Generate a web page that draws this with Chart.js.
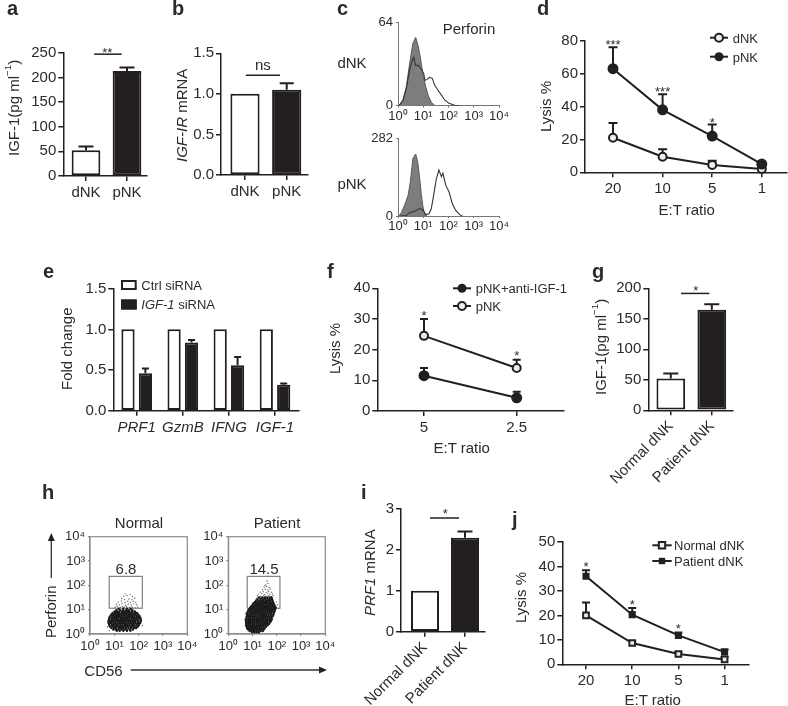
<!DOCTYPE html>
<html>
<head>
<meta charset="utf-8">
<title>Figure</title>
<script src="https://cdn.jsdelivr.net/npm/chart.js@4/dist/chart.umd.min.js"></script>
<style>
html, body { margin: 0; padding: 0; background: #fff; width: 788px; height: 706px; overflow: hidden; }
#fig { position: relative; width: 788px; height: 706px; overflow: hidden; filter: blur(0.35px); }
#fig canvas { position: absolute; }
#fig span { position: absolute; white-space: nowrap; line-height: 1; color: #2b2b2b; font-family: "Liberation Sans", sans-serif; }
#fig svg { position: absolute; left: 0; top: 0; }
sup { font-size: .65em; line-height: 0; }
</style>
</head>
<body>
<div id="fig">
  <svg width="788" height="706">
    <g stroke="#333" stroke-width="1.3" fill="#222">
      <line x1="51.3" y1="578" x2="51.3" y2="539"/>
      <line x1="130.7" y1="670" x2="322" y2="670"/>
      <polygon points="51.3,533 47.8,541 54.8,541" stroke="none"/>
      <polygon points="327,670 319,666.5 319,673.5" stroke="none"/>
    </g>
  </svg>
</div>
<script>
// panel a
const aLabels = ['dNK', 'pNK'];
const aValues = [52, 213];
const aTops = [60, 220];
const aTicks = [0, 50, 100, 150, 200, 250];

// panel b
const bLabels = ['dNK', 'pNK'];
const bValues = [1.0, 1.05];
const bTops = [null, 1.13];
const bTicks = [0, 0.5, 1, 1.5];

// panel c, x in decades
const cDnkOpenX = [0.04, 0.2, 0.33, 0.46, 0.57, 0.62, 0.7, 0.79, 0.92, 1.02, 1.07, 1.15, 1.25, 1.36, 1.45, 1.58, 1.72, 1.85, 2.02, 2.24, 2.44];
const cDnkOpenY = [0, 4.4, 13.4, 27.5, 35.2, 37.2, 31.1, 31.1, 28.5, 24.7, 19.5, 20.3, 21.8, 21.1, 15.9, 12.1, 8.2, 4.4, 1.8, 0.3, 0];
const cDnkFillX = [0.04, 0.2, 0.33, 0.46, 0.59, 0.7, 0.79, 0.88, 0.99, 1.1, 1.19, 1.32, 1.45];
const cDnkFillY = [0, 4.4, 14.6, 32.6, 48, 52.7, 46.8, 37.8, 23.6, 14.6, 8.2, 2.6, 0.3];
const cPnkOpenX = [0.07, 0.33, 0.46, 0.66, 0.86, 0.99, 1.1, 1.23, 1.32, 1.41, 1.52, 1.62, 1.72, 1.78, 1.89, 2.02, 2.15, 2.28, 2.44, 2.55];
const cPnkOpenY = [0, 2, 12, 17, 27, 21, 5, 8, 27, 75, 136, 167, 143, 155, 112, 88, 45, 21, 5, 0];
const cPnkFillX = [0.04, 0.13, 0.26, 0.4, 0.49, 0.59, 0.7, 0.78, 0.86, 0.92, 0.99, 1.06, 1.15];
const cPnkFillY = [0, 12, 39, 75, 124, 209, 225, 197, 136, 81, 33, 5, 0];
const decadeLabels = ['10⁰', '10¹', '10²', '10³', '10⁴'];

// panel d
const dLabels = ['20', '10', '5', '1'];
const dPnk = [63, 38, 22, 5];
const dPnkTops = [76, 47.5, 29, 6];
const dDnk = [21, 9.5, 4.5, 2];
const dDnkTops = [30, 14, 7, 3];
const dTicks = [0, 20, 40, 60, 80];

// panel e
const eLabels = ['PRF1', 'GzmB', 'IFNG', 'IGF-1'];
const eCtrl = [1, 1, 1, 1];
const eSi = [0.46, 0.84, 0.56, 0.32];
const eSiTops = [0.52, 0.87, 0.66, 0.335];
const eTicks = [0, 0.5, 1, 1.5];

// panel f
const fLabels = ['5', '2.5'];
const fAnti = [11.5, 4.3];
const fAntiTops = [14, 6.3];
const fPnk = [24.5, 14];
const fPnkTops = [30, 16.7];
const fTicks = [0, 10, 20, 30, 40];

// panel g
const gLabels = ['Normal dNK', 'Patient dNK'];
const gValues = [52, 165];
const gTops = [60.5, 174];
const gTicks = [0, 50, 100, 150, 200];

// panel h, both axes in decades: [y, [x, x, ...]]
const hNormalRows = [
  [0.13, [1.1, 1.22, 1.37, 1.52, 1.66]],
  [0.19, [0.96, 1.06, 1.17, 1.29, 1.41, 1.5, 1.63, 1.76]],
  [0.25, [0.88, 0.99, 1.08, 1.19, 1.27, 1.36, 1.47, 1.58, 1.69, 1.81, 1.9]],
  [0.31, [0.82, 0.93, 1.02, 1.11, 1.21, 1.3, 1.39, 1.49, 1.57, 1.67, 1.76, 1.87, 1.97]],
  [0.37, [0.79, 0.9, 0.98, 1.08, 1.16, 1.25, 1.34, 1.44, 1.53, 1.62, 1.72, 1.81, 1.92, 2.01]],
  [0.44, [0.78, 0.87, 0.97, 1.05, 1.14, 1.23, 1.33, 1.41, 1.5, 1.59, 1.69, 1.79, 1.88, 1.98, 2.05]],
  [0.5, [0.76, 0.86, 0.95, 1.04, 1.13, 1.22, 1.31, 1.4, 1.49, 1.58, 1.67, 1.76, 1.85, 1.96, 2.07]],
  [0.56, [0.77, 0.88, 0.96, 1.06, 1.15, 1.24, 1.32, 1.42, 1.51, 1.6, 1.68, 1.78, 1.87, 1.97, 2.09]],
  [0.62, [0.79, 0.89, 0.98, 1.07, 1.16, 1.26, 1.35, 1.43, 1.52, 1.61, 1.71, 1.8, 1.9, 1.99, 2.08]],
  [0.68, [0.8, 0.91, 1.0, 1.09, 1.18, 1.27, 1.36, 1.45, 1.54, 1.63, 1.72, 1.82, 1.91, 2.0, 2.06]],
  [0.74, [0.84, 0.93, 1.03, 1.11, 1.2, 1.29, 1.38, 1.47, 1.56, 1.65, 1.74, 1.83, 1.93, 2.03]],
  [0.8, [0.88, 0.97, 1.06, 1.15, 1.24, 1.32, 1.41, 1.5, 1.6, 1.68, 1.77, 1.87, 1.98]],
  [0.86, [0.93, 1.03, 1.12, 1.2, 1.3, 1.39, 1.48, 1.57, 1.66, 1.75, 1.85, 1.93]],
  [0.92, [1.01, 1.1, 1.21, 1.33, 1.42, 1.53, 1.62, 1.73, 1.84]],
  [0.98, [1.09, 1.24, 1.36, 1.49, 1.6, 1.74]],
  [1.04, [1.18, 1.37, 1.52, 1.68]]
];
const hNormalSparseX = [1.03, 1.12, 1.25, 1.34, 1.41, 1.5, 1.62, 1.74, 1.85, 1.96, 1.08, 1.2, 1.31, 1.47, 1.58, 1.7, 1.81, 1.92, 1.16, 1.29, 1.44, 1.55, 1.66, 1.78, 1.88, 1.3, 1.42, 1.6, 1.73, 1.84, 1.38, 1.52, 1.75, 0.8, 0.72, 0.74, 2.1, 2.16, 1.45, 1.65];
const hNormalSparseY = [1.1, 1.14, 1.09, 1.13, 1.1, 1.12, 1.09, 1.11, 1.08, 1.1, 1.22, 1.2, 1.25, 1.18, 1.23, 1.19, 1.24, 1.2, 1.32, 1.36, 1.3, 1.35, 1.29, 1.34, 1.31, 1.46, 1.42, 1.44, 1.41, 1.47, 1.55, 1.58, 1.53, 0.14, 0.3, 0.45, 0.52, 0.35, 1.65, 1.62];

const hPatientRows = [
  [0.06, [0.98, 1.08, 1.17, 1.26]],
  [0.12, [0.88, 0.97, 1.06, 1.15, 1.24, 1.33, 1.42]],
  [0.18, [0.82, 0.91, 1.0, 1.08, 1.17, 1.26, 1.35, 1.46]],
  [0.24, [0.78, 0.87, 0.95, 1.03, 1.12, 1.21, 1.29, 1.38, 1.49]],
  [0.3, [0.76, 0.84, 0.93, 1.01, 1.09, 1.18, 1.27, 1.36, 1.45, 1.55]],
  [0.36, [0.75, 0.83, 0.92, 1.0, 1.08, 1.17, 1.26, 1.35, 1.44, 1.53, 1.62]],
  [0.42, [0.74, 0.82, 0.9, 0.99, 1.07, 1.16, 1.25, 1.33, 1.42, 1.51, 1.6, 1.68]],
  [0.48, [0.74, 0.83, 0.91, 1.0, 1.09, 1.18, 1.26, 1.35, 1.44, 1.53, 1.61, 1.72]],
  [0.54, [0.73, 0.82, 0.9, 0.98, 1.07, 1.16, 1.24, 1.33, 1.42, 1.51, 1.6, 1.69, 1.76]],
  [0.6, [0.75, 0.84, 0.92, 1.01, 1.09, 1.18, 1.27, 1.36, 1.45, 1.54, 1.62, 1.71, 1.79]],
  [0.66, [0.75, 0.83, 0.91, 1.0, 1.08, 1.17, 1.25, 1.34, 1.43, 1.52, 1.61, 1.7, 1.78]],
  [0.72, [0.76, 0.85, 0.93, 1.02, 1.11, 1.2, 1.29, 1.38, 1.47, 1.56, 1.64, 1.73, 1.82]],
  [0.78, [0.77, 0.86, 0.95, 1.03, 1.12, 1.21, 1.3, 1.39, 1.47, 1.56, 1.66, 1.75, 1.85]],
  [0.84, [0.78, 0.88, 0.97, 1.05, 1.14, 1.23, 1.32, 1.4, 1.49, 1.58, 1.67, 1.76, 1.87]],
  [0.9, [0.8, 0.9, 0.99, 1.08, 1.16, 1.25, 1.34, 1.43, 1.52, 1.61, 1.7, 1.79, 1.89]],
  [0.96, [0.82, 0.92, 1.01, 1.1, 1.19, 1.28, 1.36, 1.45, 1.54, 1.63, 1.72, 1.81, 1.91]],
  [1.02, [0.85, 0.95, 1.04, 1.13, 1.21, 1.3, 1.39, 1.48, 1.57, 1.66, 1.75, 1.84, 1.93]],
  [1.08, [0.9, 0.99, 1.07, 1.16, 1.25, 1.33, 1.42, 1.51, 1.6, 1.69, 1.78, 1.87, 1.95]],
  [1.14, [0.95, 1.03, 1.12, 1.2, 1.29, 1.38, 1.47, 1.56, 1.65, 1.74, 1.83, 1.92]],
  [1.2, [1.0, 1.09, 1.17, 1.26, 1.35, 1.44, 1.53, 1.62, 1.71, 1.8, 1.89]],
  [1.26, [1.04, 1.14, 1.22, 1.32, 1.41, 1.5, 1.59, 1.68, 1.77, 1.86]],
  [1.32, [1.1, 1.2, 1.29, 1.38, 1.47, 1.56, 1.65, 1.74, 1.84]],
  [1.38, [1.15, 1.26, 1.36, 1.44, 1.54, 1.63, 1.72, 1.82]],
  [1.44, [1.2, 1.33, 1.42, 1.52, 1.62, 1.71, 1.8]],
  [1.5, [1.27, 1.4, 1.5, 1.6, 1.7, 1.78]]
];
const hPatientSparseX = [1.2, 1.33, 1.46, 1.55, 1.67, 1.77, 1.85, 1.25, 1.38, 1.5, 1.62, 1.72, 1.82, 1.32, 1.44, 1.56, 1.66, 1.78, 1.41, 1.53, 1.63, 1.73, 1.48, 1.58, 1.68, 1.55, 1.63, 1.51, 0.7, 0.68, 0.72, 2.02, 2.08, 1.98, 1.6];
const hPatientSparseY = [1.56, 1.54, 1.58, 1.55, 1.57, 1.54, 1.58, 1.64, 1.66, 1.62, 1.65, 1.63, 1.66, 1.72, 1.74, 1.71, 1.75, 1.72, 1.82, 1.84, 1.81, 1.85, 1.92, 1.95, 1.91, 2.02, 2.08, 2.0, 0.35, 0.6, 0.85, 1.2, 1.05, 1.32, 2.18];
const hNormalGate = [0.79, 2.15, 1.06, 2.37];
const hPatientGate = [0.78, 2.13, 1.06, 2.37];

// panel i
const iLabels = ['Normal dNK', 'Patient dNK'];
const iValues = [1, 2.3];
const iTops = [null, 2.45];
const iTicks = [0, 1, 2, 3];

// panel j
const jLabels = ['20', '10', '5', '1'];
const jPatient = [36, 20.3, 11.8, 5];
const jPatientTops = [38.5, 23, 13, 6];
const jNormal = [20, 8.7, 4.2, 2];
const jNormalTops = [25.3, 9.5, 5, 3];
const jTicks = [0, 10, 20, 30, 40, 50];

const DARK = '#231f20';
const FONT = '"Liberation Sans", sans-serif';
const fig = document.getElementById('fig');

function pairs(xs, ys) { return xs.map((x, i) => ({ x: x, y: ys[i] })); }
function indexed(ys) { return ys.map((y, i) => ({ x: i, y: y })); }
function expandRows(rows) {
  const out = [];
  rows.forEach(r => r[1].forEach(x => out.push({ x: x, y: r[0] })));
  return out;
}

function addText(html, x, y, opts) {
  opts = opts || {};
  const s = document.createElement('span');
  s.innerHTML = html;
  s.style.fontSize = (opts.size || 15) + 'px';
  if (opts.bold) s.style.fontWeight = 'bold';
  fig.appendChild(s);
  if (opts.vertical) {
    // snap the box to even sizes so the half turn lands on whole pixels
    s.style.writingMode = 'vertical-rl';
    s.style.textAlign = 'center';
    const r = s.getBoundingClientRect();
    const w = Math.ceil(r.width / 2) * 2, h = Math.ceil(r.height / 2) * 2;
    s.style.width = w + 'px';
    s.style.height = h + 'px';
    s.style.left = Math.round(x - w / 2) + 'px';
    s.style.top = Math.round(y - h / 2) + 'px';
    s.style.transform = 'rotate(180deg)';
    return;
  }
  s.style.left = x + 'px';
  s.style.top = y + 'px';
  s.style.transform = opts.left ? 'translate(0,-50%)' : 'translate(-50%,-50%)';
}

// error bars, significance bars, stars and legend marks for one panel
function panelPlugin(cfg, box) {
  return {
    id: 'panel',
    beforeDatasetsDraw(chart) {
      const ctx = chart.ctx, xs = chart.scales.x, ys = chart.scales.y;
      ctx.save();
      if (cfg.gate) {
        const g = cfg.gate;
        const x0 = xs.getPixelForValue(g[0]), x1 = xs.getPixelForValue(g[1]);
        const y0 = ys.getPixelForValue(g[2]), y1 = ys.getPixelForValue(g[3]);
        ctx.strokeStyle = '#777';
        ctx.lineWidth = 1.1;
        ctx.strokeRect(x0, y1, x1 - x0, y0 - y1);
      }
      ctx.strokeStyle = DARK;
      ctx.lineWidth = cfg.errWidth || 2;
      (cfg.errors || []).forEach(e => {
        const pts = chart.getDatasetMeta(e.ds).data;
        e.tops.forEach((top, i) => {
          if (top === null) return;
          const px = pts[i].x, py = ys.getPixelForValue(top);
          ctx.beginPath();
          ctx.moveTo(px, pts[i].y);
          ctx.lineTo(px, py);
          ctx.moveTo(px - cfg.cap / 2, py);
          ctx.lineTo(px + cfg.cap / 2, py);
          ctx.stroke();
        });
      });
      ctx.restore();
    },
    afterDraw(chart) {
      const ctx = chart.ctx, xs = chart.scales.x, ys = chart.scales.y;
      ctx.save();
      if (cfg.frame) {
        const a = chart.chartArea;
        ctx.strokeStyle = '#8a8a8a';
        ctx.lineWidth = 1.2;
        ctx.strokeRect(a.left, a.top, a.right - a.left, a.bottom - a.top);
      }
      if (cfg.sig) {
        ctx.strokeStyle = DARK;
        ctx.lineWidth = 1.5;
        ctx.beginPath();
        ctx.moveTo(xs.getPixelForValue(cfg.sig[0]), ys.getPixelForValue(cfg.sig[2]));
        ctx.lineTo(xs.getPixelForValue(cfg.sig[1]), ys.getPixelForValue(cfg.sig[2]));
        ctx.stroke();
      }
      ctx.fillStyle = '#2b2b2b';
      ctx.textAlign = 'center';
      ctx.textBaseline = 'middle';
      (cfg.stars || []).forEach(s => {
        const isStar = s[2].indexOf('*') >= 0;
        const size = isStar ? 13 : 15;
        ctx.font = size + 'px ' + FONT;
        ctx.fillText(s[2], xs.getPixelForValue(s[0]), ys.getPixelForValue(s[1]) + (isStar ? 3 : 0));
      });
      (cfg.legend || []).forEach(m => {
        const x0 = m.x0 - box.left, x1 = m.x1 - box.left, y = m.y - box.top, cx = (x0 + x1) / 2;
        if (m.kind === 'box') {
          ctx.fillStyle = m.fill;
          ctx.strokeStyle = DARK;
          ctx.lineWidth = 2;
          ctx.fillRect(x0, y - 5, x1 - x0, 10);
          ctx.strokeRect(x0 + 1, y - 4, x1 - x0 - 2, 8);
          return;
        }
        ctx.strokeStyle = DARK;
        ctx.lineWidth = 2;
        ctx.beginPath();
        ctx.moveTo(x0, y);
        ctx.lineTo(x1, y);
        ctx.stroke();
        ctx.fillStyle = m.fill;
        ctx.beginPath();
        if (m.kind === 'circle') ctx.arc(cx, y, m.r, 0, Math.PI * 2);
        else ctx.rect(cx - m.r, y - m.r, m.r * 2, m.r * 2);
        ctx.fill();
        if (m.fill !== DARK) ctx.stroke();
      });
      ctx.restore();
    }
  };
}

function panel(p) {
  const left = Math.round(p.l) - 60, top = Math.round(p.t) - 30;
  const right = Math.ceil(p.r) + 35, bottom = Math.ceil(p.b) + 80;
  const canvas = document.createElement('canvas');
  canvas.width = right - left;
  canvas.height = bottom - top;
  canvas.style.left = left + 'px';
  canvas.style.top = top + 'px';
  fig.appendChild(canvas);

  const axisColor = p.axisColor || DARK;
  const axisWidth = p.axisWidth || 1.5;
  const fontSize = p.fontSize || 15;
  const xLabels = p.xLabels;
  const xValues = p.xValues || xLabels.map((_, i) => i);
  const yLabels = p.yLabels || p.yTicks.map(String);

  new Chart(canvas, {
    type: p.type,
    data: { datasets: p.datasets },
    plugins: [panelPlugin(p.extra || {}, { left: left, top: top })],
    options: {
      responsive: false,
      animation: false,
      events: [],
      layout: { autoPadding: false, padding: { top: p.t - top, right: right - p.r, left: 0, bottom: 0 } },
      plugins: { legend: { display: false }, tooltip: { enabled: false } },
      datasets: { bar: { categoryPercentage: p.catPct || 1, barPercentage: p.barPct || 0.7 } },
      scales: {
        x: {
          type: 'linear',
          offset: false,
          min: p.xMin !== undefined ? p.xMin : (p.l - p.c0) / p.step,
          max: p.xMax !== undefined ? p.xMax : (p.r - p.c0) / p.step,
          afterFit(s) { s.height = bottom - p.b; },
          afterBuildTicks(s) { s.ticks = xValues.map(v => ({ value: v })); },
          grid: { offset: false, drawOnChartArea: false, tickLength: p.tickLen || 5, color: axisColor, lineWidth: axisWidth },
          border: { color: axisColor, width: axisWidth },
          ticks: {
            autoSkip: false,
            maxRotation: p.rotate || 0,
            minRotation: p.rotate || 0,
            padding: p.xPad !== undefined ? p.xPad : 3,
            color: '#2b2b2b',
            font: { family: FONT, size: fontSize, style: p.xItalic ? 'italic' : 'normal' },
            callback: (v, i) => xLabels[i]
          }
        },
        y: {
          type: 'linear',
          min: p.yTicks[0],
          max: p.yTicks[p.yTicks.length - 1],
          afterFit(s) { s.width = p.l - left; },
          afterBuildTicks(s) { s.ticks = p.yTicks.map(v => ({ value: v })); },
          grid: { drawOnChartArea: false, tickLength: p.tickLen || 5, color: axisColor, lineWidth: axisWidth },
          border: { color: axisColor, width: axisWidth },
          ticks: {
            autoSkip: false,
            padding: p.yPad !== undefined ? p.yPad : 2,
            color: '#2b2b2b',
            font: { family: FONT, size: fontSize },
            callback: (v, i) => yLabels[i]
          }
        }
      }
    }
  });
}

function twoBars(values) {
  return [{
    data: indexed(values),
    backgroundColor: ['#fff', DARK],
    borderColor: DARK,
    borderWidth: 2,
    borderSkipped: false
  }];
}
function lineSet(values, point, fill, radius) {
  return {
    data: indexed(values),
    borderColor: DARK,
    borderWidth: 2,
    pointStyle: point,
    pointRadius: radius,
    pointBackgroundColor: fill,
    pointBorderColor: DARK,
    pointBorderWidth: 2,
    clip: false,
    tension: 0
  };
}
function histSets(openX, openY, fillX, fillY) {
  return [
    { data: pairs(openX, openY), borderColor: '#333', borderWidth: 1.1, pointRadius: 0, fill: false, tension: 0 },
    { data: pairs(fillX, fillY), borderColor: '#5a5a5a', backgroundColor: '#7d7d7d', borderWidth: 1, pointRadius: 0, fill: 'origin', tension: 0 }
  ];
}
function dotSets(rows, sparseX, sparseY) {
  return [
    { data: expandRows(rows), pointRadius: 1.25, pointBorderWidth: 0, pointBackgroundColor: '#1a1a1a' },
    { data: pairs(sparseX, sparseY), pointRadius: 0.7, pointBorderWidth: 0, pointBackgroundColor: '#666' }
  ];
}

// a
panel({
  type: 'bar', l: 63.3, r: 147, t: 52.7, b: 176, c0: 86, step: 41, barPct: 0.7,
  xLabels: aLabels, yTicks: aTicks, datasets: twoBars(aValues),
  extra: { errors: [{ ds: 0, tops: aTops }], cap: 15, sig: [0.2, 0.87, 247], stars: [[0.52, 255, '**']] }
});
// b
panel({
  type: 'bar', l: 221, r: 308, t: 53.3, b: 175, c0: 245, step: 41.7, barPct: 0.7,
  xLabels: bLabels, yTicks: bTicks, yLabels: ['0.0', '0.5', '1.0', '1.5'], datasets: twoBars(bValues),
  extra: { errors: [{ ds: 0, tops: bTops }], cap: 14, sig: [0.02, 0.84, 1.23], stars: [[0.43, 1.35, 'ns']] }
});
// c
panel({
  type: 'line', l: 398, r: 499, t: 22.7, b: 105.7, xMin: 0, xMax: 4, xValues: [0, 1, 2, 3, 4],
  xLabels: decadeLabels, yTicks: [0, 64], fontSize: 13, axisColor: '#777', axisWidth: 1, tickLen: 2, xPad: 1, yPad: 3,
  datasets: histSets(cDnkOpenX, cDnkOpenY, cDnkFillX, cDnkFillY)
});
panel({
  type: 'line', l: 398, r: 499, t: 138.3, b: 216, xMin: 0, xMax: 4, xValues: [0, 1, 2, 3, 4],
  xLabels: decadeLabels, yTicks: [0, 282], fontSize: 13, axisColor: '#777', axisWidth: 1, tickLen: 2, xPad: 1, yPad: 3,
  datasets: histSets(cPnkOpenX, cPnkOpenY, cPnkFillX, cPnkFillY)
});
// d
panel({
  type: 'line', l: 585, r: 787, t: 40.7, b: 172.3, c0: 613, step: 49.6,
  xLabels: dLabels, yTicks: dTicks,
  datasets: [lineSet(dPnk, 'circle', DARK, 4.5), lineSet(dDnk, 'circle', '#eee', 4)],
  extra: {
    errors: [{ ds: 0, tops: dPnkTops }, { ds: 1, tops: dDnkTops }], cap: 9,
    stars: [[0, 78.7, '***'], [1, 50.6, '***'], [2, 31.7, '*']],
    legend: [
      { kind: 'circle', x0: 710, x1: 728, y: 37.7, r: 4, fill: '#eee' },
      { kind: 'circle', x0: 710, x1: 728, y: 56.7, r: 4.5, fill: DARK }
    ]
  }
});
// e
panel({
  type: 'bar', l: 113.3, r: 299, t: 288.7, b: 410.7, c0: 136.7, step: 46.1, catPct: 0.755, barPct: 0.76,
  xLabels: eLabels, xItalic: true, yTicks: eTicks, yLabels: ['0.0', '0.5', '1.0', '1.5'],
  datasets: [
    { data: indexed(eCtrl), backgroundColor: '#fff', borderColor: DARK, borderWidth: 2, borderSkipped: false },
    { data: indexed(eSi), backgroundColor: DARK, borderColor: DARK, borderWidth: 2, borderSkipped: false }
  ],
  extra: {
    errors: [{ ds: 1, tops: eSiTops }], cap: 7,
    legend: [
      { kind: 'box', x0: 121, x1: 136.7, y: 285, fill: '#fff' },
      { kind: 'box', x0: 121, x1: 136.7, y: 304.5, fill: DARK }
    ]
  }
});
// f
panel({
  type: 'line', l: 377.3, r: 563.3, t: 288.3, b: 411, c0: 424, step: 92.7,
  xLabels: fLabels, yTicks: fTicks,
  datasets: [lineSet(fAnti, 'circle', DARK, 4.5), lineSet(fPnk, 'circle', '#eee', 4)],
  extra: {
    errors: [{ ds: 0, tops: fAntiTops }, { ds: 1, tops: fPnkTops }], cap: 8,
    stars: [[0, 31.9, '*'], [1, 18.9, '*']],
    legend: [
      { kind: 'circle', x0: 453, x1: 471, y: 288.3, r: 4.5, fill: DARK },
      { kind: 'circle', x0: 453, x1: 471, y: 306, r: 4, fill: '#eee' }
    ]
  }
});
// g
panel({
  type: 'bar', l: 648.3, r: 732.7, t: 288.3, b: 410.3, c0: 670.8, step: 41, barPct: 0.7, rotate: 45, xPad: 2,
  xLabels: gLabels, yTicks: gTicks, datasets: twoBars(gValues),
  extra: { errors: [{ ds: 0, tops: gTops }], cap: 15, sig: [0.25, 0.94, 191.6], stars: [[0.61, 199, '*']] }
});
// h
panel({
  type: 'scatter', l: 90, r: 187.3, t: 536.7, b: 634, xMin: 0, xMax: 4, xValues: [0, 1, 2, 3, 4],
  xLabels: decadeLabels, yTicks: [0, 1, 2, 3, 4], yLabels: decadeLabels, fontSize: 13,
  axisColor: '#8a8a8a', axisWidth: 1.2, tickLen: 2, xPad: 3, yPad: 3,
  datasets: dotSets(hNormalRows, hNormalSparseX, hNormalSparseY),
  extra: { frame: true, gate: hNormalGate }
});
panel({
  type: 'scatter', l: 228.3, r: 325.3, t: 536.7, b: 634, xMin: 0, xMax: 4, xValues: [0, 1, 2, 3, 4],
  xLabels: decadeLabels, yTicks: [0, 1, 2, 3, 4], yLabels: decadeLabels, fontSize: 13,
  axisColor: '#8a8a8a', axisWidth: 1.2, tickLen: 2, xPad: 3, yPad: 3,
  datasets: dotSets(hPatientRows, hPatientSparseX, hPatientSparseY),
  extra: { frame: true, gate: hPatientGate }
});
// i
panel({
  type: 'bar', l: 401, r: 485, t: 509, b: 631.7, c0: 425, step: 40, barPct: 0.7, rotate: 45, xPad: 2,
  xLabels: iLabels, yTicks: iTicks, datasets: twoBars(iValues),
  extra: { errors: [{ ds: 0, tops: iTops }], cap: 15, sig: [0.125, 0.85, 2.78], stars: [[0.51, 2.93, '*']] }
});
// j
panel({
  type: 'line', l: 562.3, r: 749, t: 542, b: 664.3, c0: 586, step: 46.2,
  xLabels: jLabels, yTicks: jTicks,
  datasets: [lineSet(jPatient, 'rect', DARK, 3.6), lineSet(jNormal, 'rect', '#eee', 4)],
  extra: {
    errors: [{ ds: 0, tops: jPatientTops }, { ds: 1, tops: jNormalTops }], cap: 8,
    stars: [[0, 40.9, '*'], [1, 25.2, '*'], [2, 15.4, '*']],
    legend: [
      { kind: 'square', x0: 652.3, x1: 671.7, y: 545.3, r: 3.2, fill: '#eee' },
      { kind: 'square', x0: 652.3, x1: 671.7, y: 561, r: 3.2, fill: DARK }
    ]
  }
});

// panel letters
[['a', 7, 7.7], ['b', 172, 7.7], ['c', 337, 7.7], ['d', 537, 7.7], ['e', 43, 271], ['f', 327, 271], ['g', 592, 271],
 ['h', 42, 492], ['i', 361, 492], ['j', 512, 519]].forEach(t => addText(t[0], t[1], t[2], { size: 20, bold: true, left: true }));

// axis titles and other labels
const igfTitle = 'IGF-1(pg ml<sup>−1</sup>)';
addText(igfTitle, 14, 107.5, { vertical: true });
addText('<i>IGF-IR</i> mRNA', 182, 115, { vertical: true });
addText('dNK', 352, 62);
addText('pNK', 352, 183);
addText('Perforin', 469, 28);
addText('Lysis %', 546, 105.8, { vertical: true });
addText('E:T ratio', 686.7, 209.3);
addText('dNK', 732.7, 37.7, { size: 13, left: true });
addText('pNK', 732.7, 56.7, { size: 13, left: true });

addText('Fold change', 67, 349, { vertical: true });
addText('Ctrl siRNA', 141.3, 285, { size: 13, left: true });
addText('<i>IGF-1</i> siRNA', 141.3, 304, { size: 13, left: true });
addText('Lysis %', 335, 347.5, { vertical: true });
addText('E:T ratio', 461.7, 446.7);
addText('pNK+anti-IGF-1', 475.7, 288.3, { size: 13, left: true });
addText('pNK', 475.7, 306, { size: 13, left: true });
addText(igfTitle, 601, 346.7, { vertical: true });

addText('Normal', 139, 522);
addText('Patient', 277, 522);
addText('6.8', 126, 568);
addText('14.5', 264, 568);
addText('Perforin', 51, 612, { vertical: true });
addText('CD56', 103.5, 670);
addText('<i>PRF1</i> mRNA', 370, 572.7, { vertical: true });
addText('Lysis %', 521, 596.7, { vertical: true });
addText('E:T ratio', 652.7, 699);
addText('Normal dNK', 674, 545.3, { size: 13, left: true });
addText('Patient dNK', 674, 561, { size: 13, left: true });
</script>
</body>
</html>
